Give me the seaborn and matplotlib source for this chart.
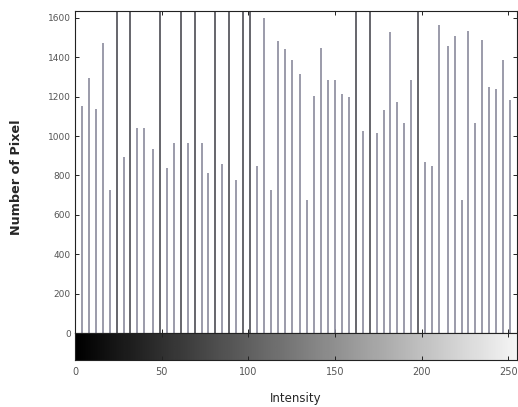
import numpy as np
import matplotlib
matplotlib.use("Agg")
from matplotlib import pyplot as plt
import seaborn as sns

# gray levels present after equalisation (64 output levels, 0 and 255 hidden on the box)
levels = [4, 8, 12, 16, 20, 24, 28, 32, 36, 40, 45, 49, 53, 57, 61, 65,
          69, 73, 77, 81, 85, 89, 93, 97, 101, 105, 109, 113, 117, 121, 125, 130,
          134, 138, 142, 146, 150, 154, 158, 162, 166, 170, 174, 178, 182, 186, 190, 194,
          198, 202, 206, 210, 215, 219, 223, 227, 231, 235, 239, 243, 247, 251]

# pixel counts per level (stems above 1640 run off the top of the axes)
counts = [1152, 1294, 1137, 1472, 726, 2100, 893, 2100, 1040, 1040,
          934, 2100, 837, 964, 2100, 964, 2100, 964, 812, 2100,
          858, 2100, 777, 2100, 2100, 848, 1599, 726, 1482, 1441,
          1386, 1315, 675, 1203, 1446, 1284, 1284, 1213, 1198, 2100,
          1025, 2100, 1015, 1132, 1528, 1173, 1066, 1284, 2100, 868,
          848, 1563, 1457, 1508, 675, 1533, 1066, 1487, 1249, 1239,
          1386, 1183]

x_ticks = [0, 50, 100, 150, 200, 250]
y_ticks = [0, 200, 400, 600, 800, 1000, 1200, 1400, 1600]
y_max = 1636

sns.set_style("white")
plt.rcParams['font.family'] = ['DejaVu Sans']

fig = plt.figure(figsize=(5.18, 4.07), dpi=100)
ax = fig.add_axes([0.1448, 0.1818, 0.8533, 0.7919])
cax = fig.add_axes([0.1448, 0.1155, 0.8533, 0.0663])

levels = np.array(levels)
counts = np.array(counts)
tall = counts > y_max
ax.vlines(levels[~tall], 0, counts[~tall], color='#8a8a9c', linewidth=1.2)
ax.vlines(levels[tall], 0, counts[tall], color='#3c3c44', linewidth=1.1)

ax.set_xlim(0, 255)
ax.set_ylim(0, y_max)
ax.set_yticks(y_ticks)
ax.set_xticks(x_ticks)
ax.tick_params(axis='both', direction='in', length=3, width=0.7,
               top=True, right=True, bottom=True, left=True,
               labelsize=6.5, labelcolor='#555555', color='#222222', pad=3)
ax.tick_params(axis='x', labelbottom=False)
for s in ax.spines.values():
    s.set_color('#222222')
    s.set_linewidth(0.8)
ax.set_ylabel('Number of Pixel', fontsize=9.2, fontweight='bold')
ax.yaxis.set_label_coords(-0.118, 0.484)

# grayscale bar under the stems
grad = np.linspace(0, 1, 256).reshape(1, -1)
cax.imshow(grad, cmap='gray', vmin=0, vmax=1.04, aspect='auto',
           extent=[0, 255, 0, 1])
cax.set_xlim(0, 255)
cax.set_yticks([])
cax.set_xticks(x_ticks)
cax.tick_params(axis='x', direction='in', length=3, width=0.7, top=True,
                bottom=True, labelsize=7, labelcolor='#555555',
                color='#222222', pad=5)
for s in cax.spines.values():
    s.set_color('#222222')
    s.set_linewidth(0.8)
cax.set_xlabel('Intensity', fontsize=8.5, labelpad=11)

fig.savefig('out.png', dpi=100)
